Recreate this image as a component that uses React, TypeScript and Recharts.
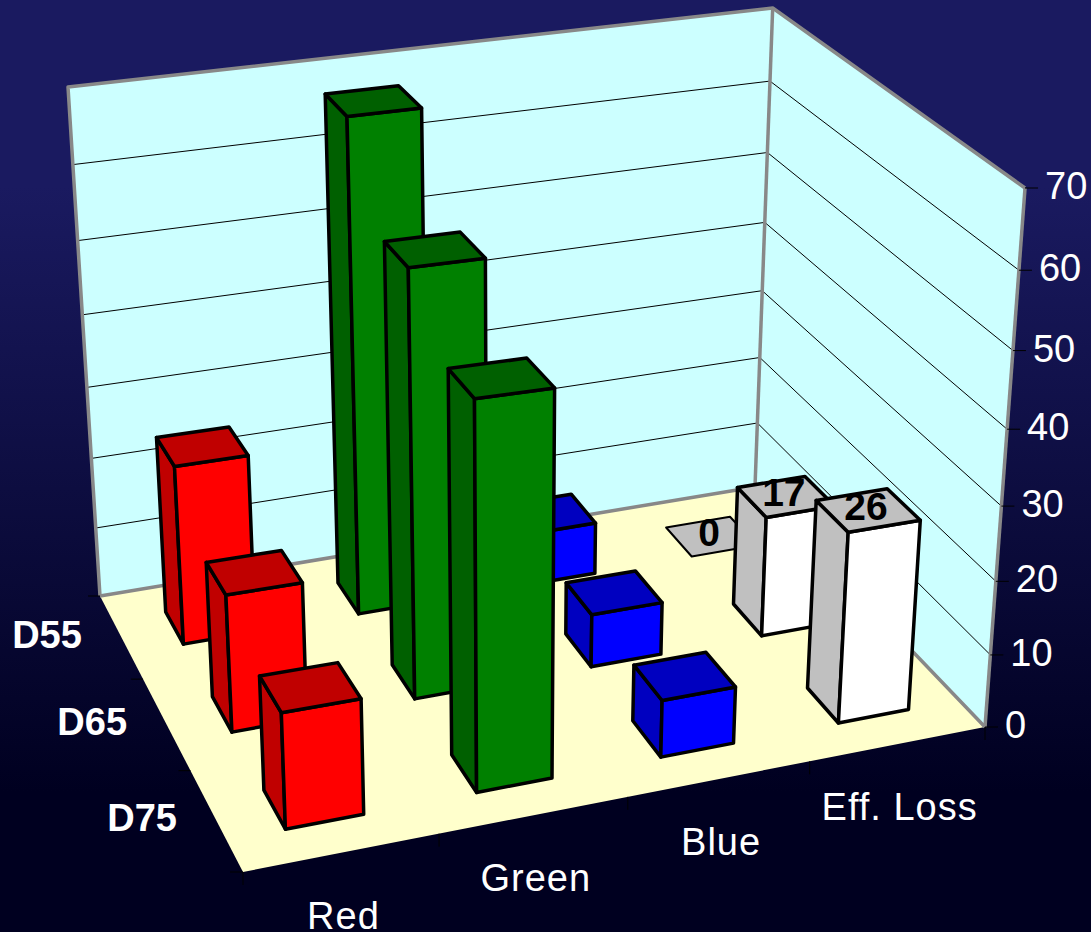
import React from 'react';
import { BarChart, Bar, XAxis, YAxis, LabelList } from 'recharts';

const categories = ['Red', 'Green', 'Blue', 'Eff. Loss'];
const seriesNames = ['D55', 'D65', 'D75'];
const d55 = [25, 68, 7.5, 0];
const d65 = [18.5, 57, 7.4, 17];
const d75 = [15, 50, 7.7, 26];
const valueTicks = [0, 10, 20, 30, 40, 50, 60, 70];

const rows = categories.map((name, i) => ({ name, D55: d55[i], D65: d65[i], D75: d75[i] }));

const WIDTH = 1091;
const HEIGHT = 932;
const PLOT_TOP = 185;
const PLOT_BOTTOM = 727;
const PLOT_H = PLOT_BOTTOM - PLOT_TOP;

type Pt = [number, number];
type Quad = [Pt, Pt, Pt, Pt];

// room corners in order back-left, back-right, front-right, front-left
const FLOOR: Quad = [[100, 596], [755, 487], [985, 727], [243, 872]];
const CEILING: Quad = [[68, 87], [770, 8], [1025, 188], [219, 280]];
// vertical edges of the room converge here
const VANISH: Pt = [510, 7122];
const FORESHORTEN = 0.08;

// unit square to quad homography
function homography(q: Quad) {
  const [[x0, y0], [x1, y1], [x2, y2], [x3, y3]] = q;
  const dx1 = x1 - x2;
  const dx2 = x3 - x2;
  const sx = x0 - x1 + x2 - x3;
  const dy1 = y1 - y2;
  const dy2 = y3 - y2;
  const sy = y0 - y1 + y2 - y3;
  const det = dx1 * dy2 - dx2 * dy1;
  const g = (sx * dy2 - dx2 * sy) / det;
  const h = (dx1 * sy - sx * dy1) / det;
  const a = x1 - x0 + g * x1;
  const b = x3 - x0 + h * x3;
  const d = y1 - y0 + g * y1;
  const e = y3 - y0 + h * y3;
  return (u: number, v: number): Pt => {
    const w = g * u + h * v + 1;
    return [(a * u + b * v + x0) / w, (d * u + e * v + y0) / w];
  };
}

const floorAt = homography(FLOOR);
const ceilingAt = homography(CEILING);

// u runs along the categories, v from the back row to the front, f is value / axis max
function project(u: number, v: number, f: number): Pt {
  const p = floorAt(u, v);
  const q = ceilingAt(u, v);
  const rise = (p[1] - q[1]) * (f / (1 + FORESHORTEN * (1 - f)));
  const lean = (VANISH[0] - p[0]) / (VANISH[1] - p[1]);
  return [p[0] - lean * rise, p[1] - rise];
}

const pts = (list: Pt[]) => list.map((p) => `${p[0].toFixed(1)},${p[1].toFixed(1)}`).join(' ');

const BAR_U = [0.3, 0.705];
const BAR_V = [0.31, 0.7];

function boxCorners(cat: number, row: number, f: number) {
  const u0 = (cat + BAR_U[0]) / categories.length;
  const u1 = (cat + BAR_U[1]) / categories.length;
  const v0 = (row + BAR_V[0]) / seriesNames.length;
  const v1 = (row + BAR_V[1]) / seriesNames.length;
  return {
    backLeftBase: project(u0, v0, 0),
    frontLeftBase: project(u0, v1, 0),
    frontRightBase: project(u1, v1, 0),
    backLeftTop: project(u0, v0, f),
    backRightTop: project(u1, v0, f),
    frontLeftTop: project(u0, v1, f),
    frontRightTop: project(u1, v1, f),
  };
}

const barColors = [
  { front: '#FF0000', side: '#C00000' },
  { front: '#008000', side: '#006000' },
  { front: '#0000FF', side: '#0000C0' },
  { front: '#FFFFFF', side: '#C0C0C0' },
];

const makeBox = (row: number) => (props: any) => {
  const { index, height } = props;
  const f = Math.abs(height || 0) / PLOT_H;
  const c = boxCorners(index, row, f);
  const col = barColors[index];
  const line = { stroke: '#000', strokeWidth: 3.5, strokeLinejoin: 'round' as const };
  return (
    <g>
      {f > 0 && (
        <polygon points={pts([c.backLeftBase, c.frontLeftBase, c.frontLeftTop, c.backLeftTop])} fill={col.side} {...line} />
      )}
      {f > 0 && (
        <polygon points={pts([c.frontLeftBase, c.frontRightBase, c.frontRightTop, c.frontLeftTop])} fill={col.front} {...line} />
      )}
      <polygon
        points={pts([c.backLeftTop, c.backRightTop, c.frontRightTop, c.frontLeftTop])}
        fill={col.side}
        stroke="#000"
        strokeWidth={f > 0 ? 3.5 : 2}
        strokeLinejoin="round"
      />
    </g>
  );
};

// value printed on the top face, only the last category carries one
const makeTopLabel = (row: number) => (props: any) => {
  const { index, value } = props;
  if (index !== categories.length - 1) return null;
  const c = boxCorners(index, row, value / 70);
  const cx = (c.backLeftTop[0] + c.backRightTop[0] + c.frontLeftTop[0] + c.frontRightTop[0]) / 4;
  const cy = (c.backLeftTop[1] + c.backRightTop[1] + c.frontLeftTop[1] + c.frontRightTop[1]) / 4;
  return (
    <text x={cx - 2} y={cy - 4} textAnchor="middle" dominantBaseline="central" fontFamily="Liberation Sans" fontWeight={700} fontSize={39} fill="#000">
      {value}
    </text>
  );
};

function Room() {
  const grid = valueTicks.slice(1, -1).map((t) => t / 70);
  const edge = '#888888';
  return (
    <g>
      <polygon points={pts(FLOOR)} fill="#FFFFCC" />
      <polygon points={pts([project(0, 0, 0), project(1, 0, 0), project(1, 0, 1), project(0, 0, 1)])} fill="#CCFFFF" />
      <polygon points={pts([project(1, 0, 0), project(1, 1, 0), project(1, 1, 1), project(1, 0, 1)])} fill="#CCFFFF" />
      {grid.map((f) => (
        <g key={f} stroke="#000" strokeWidth={1} fill="none">
          <polyline points={pts([project(0, 0, f), project(1, 0, f), project(1, 1, f)])} />
        </g>
      ))}
      <g stroke={edge} strokeWidth={3.5} fill="none" strokeLinejoin="round">
        <polyline points={pts([project(0, 0, 0), project(0, 0, 1), project(1, 0, 1), project(1, 1, 1)])} />
        <polyline points={pts([project(0, 0, 0), project(1, 0, 0), project(1, 1, 0)])} />
        <line x1={project(1, 0, 0)[0]} y1={project(1, 0, 0)[1]} x2={project(1, 0, 1)[0]} y2={project(1, 0, 1)[1]} />
      </g>
      <line x1={project(1, 1, 0)[0]} y1={project(1, 1, 0)[1]} x2={project(1, 1, 1)[0]} y2={project(1, 1, 1)[1]} stroke={edge} strokeWidth={3.5} />
      {/* tick marks on the two floor edges */}
      <g stroke="#000" strokeWidth={1}>
        {seriesNames.map((_, r) => {
          const p = project(0, r / seriesNames.length, 0);
          return <line key={r} x1={p[0] - 12} y1={p[1]} x2={p[0]} y2={p[1]} />;
        })}
        {[...categories, ''].map((_, c) => {
          const p = project(c / categories.length, 1, 0);
          return <line key={c} x1={p[0]} y1={p[1]} x2={p[0]} y2={p[1] + 13} />;
        })}
        {(() => {
          const p = project(0, 1, 0);
          return <line x1={p[0] - 13} y1={p[1]} x2={p[0]} y2={p[1]} />;
        })()}
      </g>
      {/* series names along the left floor edge */}
      {seriesNames.map((name, r) => {
        const p = project(0, (r + 0.5) / seriesNames.length, 0);
        return (
          <text key={name} x={p[0] - 74} y={p[1] - 2} textAnchor="middle" dominantBaseline="central" fontFamily="Liberation Sans" fontWeight={700} fontSize={38} fill="#fff">
            {name}
          </text>
        );
      })}
    </g>
  );
}

const ValueTick = (props: any) => {
  const { payload } = props;
  const p = project(1, 1, payload.value / 70);
  return (
    <g>
      <line x1={p[0]} y1={p[1]} x2={p[0] + 13} y2={p[1]} stroke="#000" strokeWidth={1} />
      <text x={p[0] + 20} y={p[1] - 2} dominantBaseline="central" fontFamily="Liberation Sans" fontSize={38} fill="#fff">
        {payload.value}
      </text>
    </g>
  );
};

const CategoryTick = (props: any) => {
  const { payload } = props;
  const i = categories.indexOf(payload.value);
  const p = project((i + 0.5) / categories.length, 1, 0);
  return (
    <text x={p[0] + 1.5} y={p[1] + 63} textAnchor="middle" dominantBaseline="central" fontFamily="Liberation Sans" fontSize={38} letterSpacing={1} fill="#fff">
      {payload.value}
    </text>
  );
};

export default function App() {
  return (
    <div
      style={{
        position: 'absolute',
        left: 0,
        top: 0,
        width: WIDTH,
        height: HEIGHT,
        background: 'linear-gradient(180deg, #1a1a60 0%, #1a1a60 20%, #000020 85%, #000020 100%)',
      }}
    >
      <BarChart
        width={WIDTH}
        height={HEIGHT}
        data={rows}
        margin={{ top: PLOT_TOP, right: 0, bottom: HEIGHT - PLOT_BOTTOM - 20, left: 0 }}
      >
        <XAxis dataKey="name" height={20} axisLine={false} tickLine={false} tick={<CategoryTick />} interval={0} />
        <YAxis
          orientation="right"
          width={40}
          domain={[0, 70]}
          ticks={valueTicks}
          axisLine={false}
          tickLine={false}
          tick={<ValueTick />}
          interval={0}
        />
        <Room />
        {seriesNames.map((name, r) => (
          <Bar key={name} dataKey={name} isAnimationActive={false} shape={makeBox(r)}>
            <LabelList dataKey={name} content={makeTopLabel(r)} />
          </Bar>
        ))}
      </BarChart>
    </div>
  );
}
